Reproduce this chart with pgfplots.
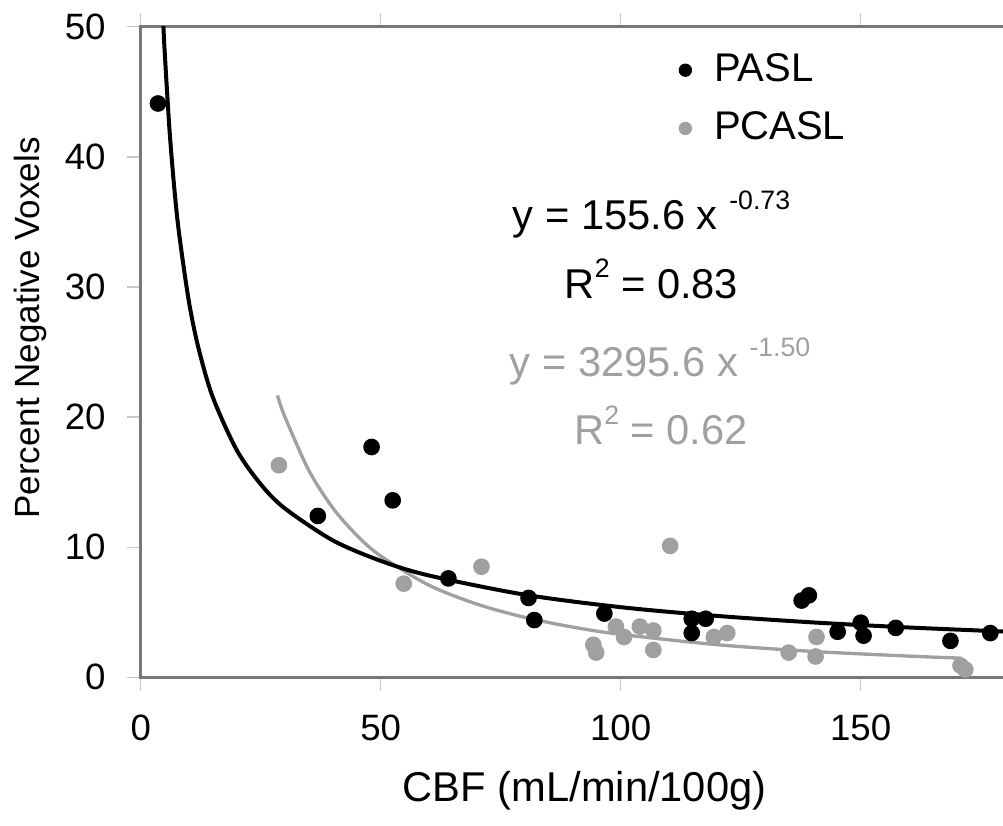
\documentclass[border=0pt]{standalone}
\usepackage{fontspec}
\setmainfont{Liberation Sans}
\usepackage{pgfplots}
\pgfplotsset{compat=1.18}
\definecolor{pgray}{HTML}{A0A0A0}
\definecolor{axgray}{HTML}{787878}
\definecolor{tickgray}{HTML}{C8C8C8}
\begin{document}
\begin{tikzpicture}
\useasboundingbox (0,0) rectangle (300.9pt,247.5pt);
\clip (0,0) rectangle (300.9pt,247.5pt);
\begin{axis}[
  at={(42.21pt,44.31pt)}, anchor=south west,
  scale only axis, width=260.64pt, height=195.18pt,
  xmin=0, xmax=181, ymin=0, ymax=50,
  xtick={0,50,100,150}, ytick={0,10,20,30,40,50},
  tick align=outside, major tick length=4pt,
  tick style={tickgray, line width=0.4pt},
  axis line style={axgray, line width=0.9pt},
  /pgf/number format/assume math mode=true,
  ticklabel style={font=\fontsize{11}{13}\selectfont},
  xticklabel style={yshift=-3.6pt},
  yticklabel style={xshift=-3pt},
  xlabel={CBF (mL/min/100g)}, ylabel={Percent Negative Voxels},
  xlabel style={font=\fontsize{12.5}{14}\selectfont, at={(axis description cs:0.511,-0.175)}, anchor=center},
  ylabel style={font=\fontsize{10.5}{12}\selectfont, at={(axis description cs:-0.127,0.537)}, anchor=center},
  legend style={at={(axis description cs:0.607,0.98)}, anchor=north west, draw=none, fill=none,
    font=\fontsize{12}{14}\selectfont, column sep=4.6pt, row sep=3.6pt},
  legend cell align=left, reverse legend,
]
\addplot[only marks, mark=*, mark size=2.3pt, color=pgray,
  legend image code/.code={\fill[pgray] (0pt,0pt) circle (1.8pt);}] coordinates {
(28.8,16.3) (54.8,7.2) (71.0,8.5) (94.3,2.5) (94.9,1.9) (99.0,3.9) (100.7,3.1)
(104.0,3.9) (106.8,3.6) (106.8,2.1) (110.3,10.1) (119.4,3.1) (122.2,3.4)
(135.0,1.9) (140.6,1.6) (140.8,3.1) (170.8,0.9) (171.8,0.6)
};
\addplot[only marks, mark=*, mark size=2.3pt, color=black,
  legend image code/.code={\fill[black] (0pt,0pt) circle (1.8pt);}] coordinates {
(3.6,44.1) (36.9,12.4) (48.1,17.7) (52.5,13.6) (64.1,7.6) (80.8,6.1) (82.0,4.4)
(96.6,4.9) (114.8,4.5) (114.8,3.4) (117.7,4.5) (137.7,5.9) (139.2,6.3)
(145.2,3.5) (150.0,4.2) (150.6,3.2) (157.3,3.8) (168.7,2.8) (177.0,3.4)
};
% power trend lines (values read from y = 3295.6 x^-1.50 and y = 155.6 x^-0.73)
\addplot[pgray, line width=1pt, smooth, forget plot] coordinates {
(28.5,21.66) (30,20.06) (35,15.92) (40,13.03) (45,10.92) (50,9.32) (60,7.09)
(70,5.63) (80,4.61) (90,3.86) (100,3.30) (120,2.51) (140,1.99) (160,1.63) (171,1.47)
};
\addplot[black, line width=1.2pt, smooth, forget plot] coordinates {
(4.7,50.3) (5,48.06) (6,42.08) (7,37.59) (8,34.11) (10,28.97) (12,25.36) (15,21.55)
(20,17.47) (25,14.84) (30,12.99) (40,10.53) (50,8.95) (60,7.83) (80,6.35)
(100,5.39) (120,4.72) (140,4.22) (160,3.83) (181,3.50)
};
\legend{PCASL,PASL}
\node[anchor=base, font=\fontsize{12.5}{15}\selectfont] at (axis cs:106.4,34.38)
  {y = 155.6 x \raisebox{0.95ex}{\fontsize{8}{9}\selectfont -0.73}};
\node[anchor=base, font=\fontsize{12.5}{15}\selectfont] at (axis cs:106.4,29.15)
  {R\raisebox{0.95ex}{\fontsize{8}{9}\selectfont 2} = 0.83};
\node[anchor=base, text=pgray, font=\fontsize{12.5}{15}\selectfont] at (axis cs:108.2,23.08)
  {y = 3295.6 x \raisebox{0.95ex}{\fontsize{8}{9}\selectfont -1.50}};
\node[anchor=base, text=pgray, font=\fontsize{12.5}{15}\selectfont] at (axis cs:108.4,17.86)
  {R\raisebox{0.95ex}{\fontsize{8}{9}\selectfont 2} = 0.62};
\end{axis}
\end{tikzpicture}
\end{document}
